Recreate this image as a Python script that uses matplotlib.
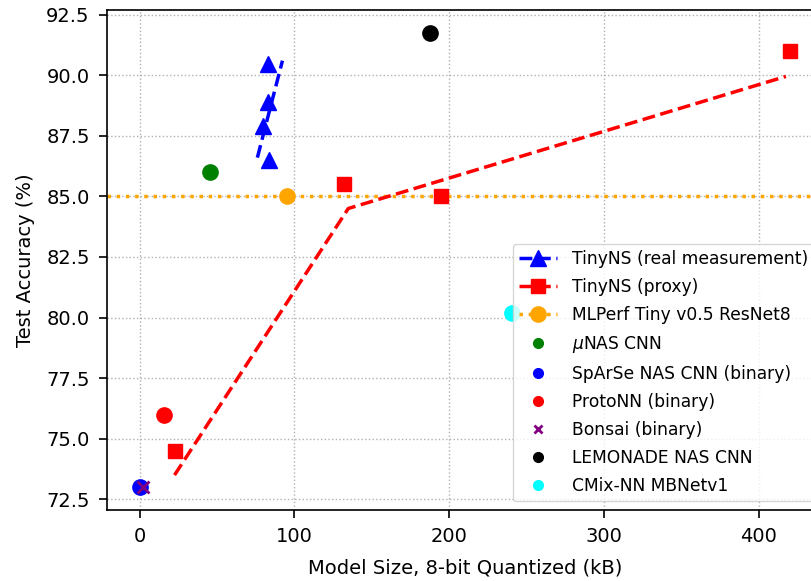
import matplotlib.pyplot as plt
from matplotlib.lines import Line2D

# TinyNS real measurement
real_x = [83.2, 83.2, 80.0, 83.9]
real_y = [90.45, 88.9, 87.9, 86.5]
real_fit_x = [76.1, 92.3]
real_fit_y = [86.6, 90.6]

# TinyNS proxy
proxy_x = [22.6, 132.3, 194.8, 420.0]
proxy_y = [74.5, 85.5, 85.0, 91.0]
proxy_fit_x = [22.6, 134.8, 417.4]
proxy_fit_y = [73.5, 84.5, 89.95]

mlperf_x, mlperf_y = 95.5, 85.0

others = [
    ("$\\mu$NAS CNN", 45.2, 86.0, "green", "o"),
    ("SpArSe NAS CNN (binary)", 0.0, 73.0, "blue", "o"),
    ("ProtoNN (binary)", 15.5, 76.0, "red", "o"),
    ("Bonsai (binary)", 2.0, 73.0, "purple", "x"),
    ("LEMONADE NAS CNN", 187.7, 91.75, "black", "o"),
    ("CMix-NN MBNetv1", 240.6, 80.2, "cyan", "o"),
]

fig = plt.figure(figsize=(8.12, 5.81), dpi=100)
ax = fig.add_axes([107 / 812, 71 / 581, 717 / 812, 500 / 581])

ax.plot(real_x, real_y, "b^", markersize=11, zorder=3)
ax.plot(real_fit_x, real_fit_y, "b--", linewidth=2.5, zorder=3)

ax.plot(proxy_x, proxy_y, "rs", markersize=10, zorder=3)
ax.plot(proxy_fit_x, proxy_fit_y, "r--", linewidth=2.5, zorder=3)

ax.axhline(mlperf_y, color="orange", linestyle=":", linewidth=2.5, zorder=2)
ax.plot([mlperf_x], [mlperf_y], "o", color="orange", markersize=11, zorder=3)

for label, x, y, c, m in others:
    if m == "x":
        ax.plot([x], [y], m, color=c, markersize=9, markeredgewidth=2, zorder=4)
    else:
        ax.plot([x], [y], m, color=c, markersize=11, zorder=3)

ax.set_xlim(-21.0, 442.0)
ax.set_ylim(72.06, 92.69)
ax.set_yticks([72.5, 75.0, 77.5, 80.0, 82.5, 85.0, 87.5, 90.0, 92.5])
ax.set_xticks([0, 100, 200, 300, 400])
ax.grid(True, linestyle=":", color="#b0b0b0", linewidth=1.0)
ax.tick_params(labelsize=14, length=5.5, width=1.2, pad=7)
for s in ax.spines.values():
    s.set_linewidth(1.2)
ax.set_xlabel("Model Size, 8-bit Quantized (kB)", fontsize=14, labelpad=9)
ax.set_ylabel("Test Accuracy (%)", fontsize=14, labelpad=8)

handles = [
    Line2D([], [], color="blue", linestyle="--", marker="^", markersize=11, linewidth=2.5),
    Line2D([], [], color="red", linestyle="--", marker="s", markersize=10, linewidth=2.5),
    Line2D([], [], color="orange", linestyle=":", marker="o", markersize=11, linewidth=2.5),
]
labels = ["TinyNS (real measurement)", "TinyNS (proxy)", "MLPerf Tiny v0.5 ResNet8"]
for label, x, y, c, m in others:
    if m == "x":
        handles.append(Line2D([], [], color=c, linestyle="none", marker=m, markersize=6, markeredgewidth=2))
    else:
        handles.append(Line2D([], [], color=c, linestyle="none", marker=m, markersize=7))
    labels.append(label)

ax.legend(handles, labels, loc="lower right", fontsize=12.3, handlelength=2.2,
          handletextpad=0.9, labelspacing=0.58)

fig.savefig("out.png", dpi=100)
